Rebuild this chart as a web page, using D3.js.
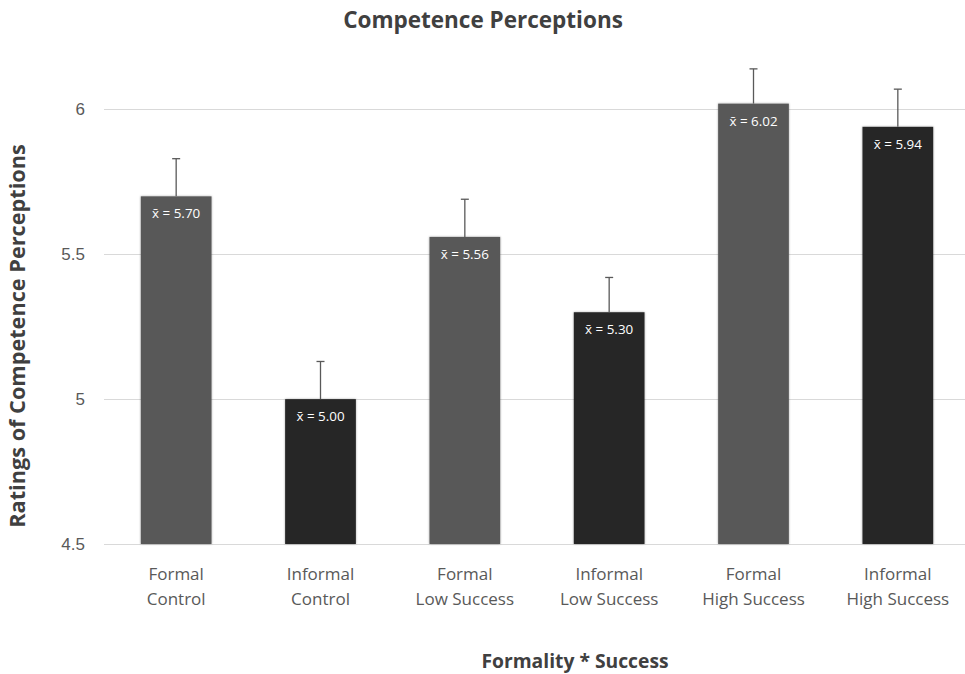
<!DOCTYPE html>
<html>
<head>
<meta charset="utf-8">
<script src="https://cdn.jsdelivr.net/npm/d3@7"></script>
<style>
	body{margin:0;background:#fff;}
	svg{font-family:"Open Sans",Lato,sans-serif;}
	.grid line{stroke:#d9d9d9;stroke-width:1;}
	.tick text{fill:#595959;}
</style>
</head>
<body>
<script>
(function(){
	//chart data
	var line1=["Formal","Informal","Formal","Informal","Formal","Informal"];
	var line2=["Control","Control","Low Success","Low Success","High Success","High Success"];
	var means=[5.70,5.00,5.56,5.30,6.02,5.94];
	var errors=[0.13,0.13,0.13,0.12,0.12,0.13];
	var yTicks=[4.5,5,5.5,6];
	var barColors=["#595959","#262626"];

window.onload=drawChart();

function drawChart(){
	var width=965,
		height=674,
		left=104,
		right=970,
		top=37,
		bottom=544;

	var svg=d3.select("body")
		.append("svg")
		.attr("width",width)
		.attr("height",height);

	var x=d3.scaleBand()
		.domain(d3.range(means.length))
		.range([left,right])
		.paddingInner(0.51)
		.paddingOuter(0.255);

	var y=d3.scaleLinear()
		.domain([4.5,6.25])
		.range([bottom,top]);

	//gridlines
	svg.append("g")
		.attr("class","grid")
		.selectAll("line")
		.data(yTicks)
		.enter()
		.append("line")
		.attr("x1",left)
		.attr("x2",right)
		.attr("y1",function(d){return Math.round(y(d))+0.5;})
		.attr("y2",function(d){return Math.round(y(d))+0.5;});

	//y axis labels
	var yAxis=d3.axisLeft(y)
		.tickValues(yTicks)
		.tickFormat(d3.format("~g"))
		.tickSize(0)
		.tickPadding(19);
	var yg=svg.append("g")
		.attr("transform","translate("+left+",0)")
		.call(yAxis);
	yg.select(".domain").remove();
	yg.selectAll("text").style("font-size","17px");

	//soft shadow for bars
	var defs=svg.append("defs");
	var f=defs.append("filter").attr("id","shadow").attr("x","-10%").attr("width","120%");
	f.append("feDropShadow").attr("dx",0).attr("dy",0).attr("stdDeviation",1.2)
		.attr("flood-color","#000").attr("flood-opacity",0.35);

	//bars
	svg.selectAll(".bar")
		.data(means)
		.enter()
		.append("rect")
		.attr("class","bar")
		.attr("x",function(d,i){return x(i);})
		.attr("width",x.bandwidth())
		.attr("y",function(d){return y(d);})
		.attr("height",function(d){return y(4.5)-y(d);})
		.attr("filter","url(#shadow)")
		.style("fill",function(d,i){return barColors[i%2];});

	//error bars
	var eb=svg.selectAll(".err")
		.data(means)
		.enter()
		.append("g")
		.attr("class","err")
		.attr("stroke","#595959")
		.attr("stroke-width",1.3);
	eb.append("line")
		.attr("x1",function(d,i){return x(i)+x.bandwidth()/2;})
		.attr("x2",function(d,i){return x(i)+x.bandwidth()/2;})
		.attr("y1",function(d){return y(d);})
		.attr("y2",function(d,i){return y(d+errors[i]);});
	eb.append("line")
		.attr("x1",function(d,i){return x(i)+x.bandwidth()/2-4;})
		.attr("x2",function(d,i){return x(i)+x.bandwidth()/2+4;})
		.attr("y1",function(d,i){return y(d+errors[i]);})
		.attr("y2",function(d,i){return y(d+errors[i]);});

	//value labels
	svg.selectAll(".val")
		.data(means)
		.enter()
		.append("text")
		.attr("class","val")
		.attr("x",function(d,i){return x(i)+x.bandwidth()/2;})
		.attr("y",function(d){return y(d)+22;})
		.attr("text-anchor","middle")
		.style("fill","#fff")
		.style("font-size","13.4px")
		.text(function(d){return "x\u0304 = "+d.toFixed(2);});

	//category labels
	var cats=svg.selectAll(".cat")
		.data(means)
		.enter()
		.append("text")
		.attr("class","cat")
		.attr("text-anchor","middle")
		.style("fill","#595959")
		.style("font-size","17px")
		.attr("x",function(d,i){return x(i)+x.bandwidth()/2;});
	cats.append("tspan")
		.attr("x",function(d,i){return x(i)+x.bandwidth()/2;})
		.attr("y",580)
		.text(function(d,i){return line1[i];});
	cats.append("tspan")
		.attr("x",function(d,i){return x(i)+x.bandwidth()/2;})
		.attr("y",605)
		.text(function(d,i){return line2[i];});

	//titles
	svg.append("text")
		.attr("x",483)
		.attr("y",28)
		.attr("text-anchor","middle")
		.style("font-weight","bold")
		.style("font-size","22.5px")
		.style("fill","#404040")
		.text("Competence Perceptions");

	svg.append("text")
		.attr("x",575)
		.attr("y",668)
		.attr("text-anchor","middle")
		.style("font-weight","bold")
		.style("font-size","19.3px")
		.style("fill","#404040")
		.text("Formality * Success");

	svg.append("text")
		.attr("transform","translate(25,336) rotate(-90)")
		.attr("text-anchor","middle")
		.style("font-weight","bold")
		.style("font-size","21.7px")
		.style("fill","#404040")
		.text("Ratings of Competence Perceptions");
};
})();
</script>
</body>
</html>
